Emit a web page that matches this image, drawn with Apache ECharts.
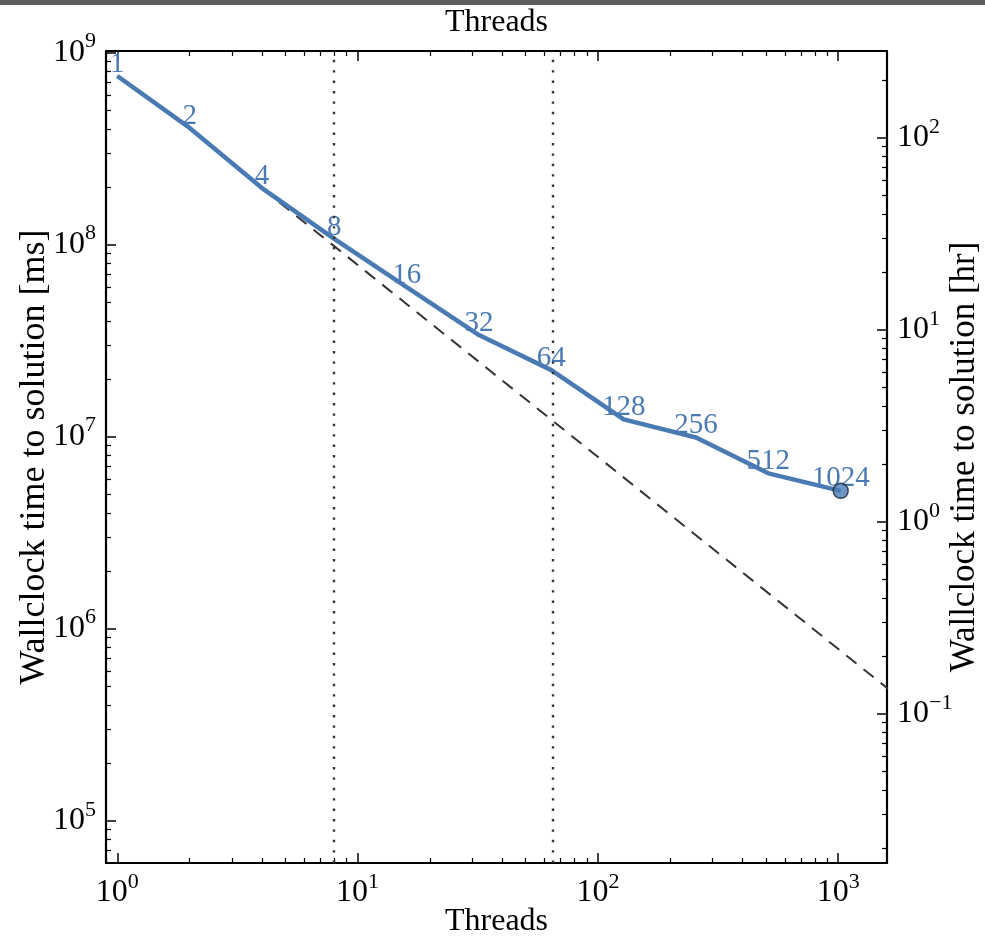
<!DOCTYPE html>
<html>
<head>
<meta charset="utf-8">
<title>Threads scaling</title>
<script src="https://cdn.jsdelivr.net/npm/echarts@6/dist/echarts.min.js"></script>
<style>
  html, body { margin: 0; padding: 0; background: #fff; }
  #chart { width: 985px; height: 937px; }
</style>
</head>
<body>
<div id="chart"></div>
<script>
  "use strict";
  // measured run: threads vs wallclock [ms]
  var threads = [1, 2, 4, 8, 16, 32, 64, 128, 256, 512, 1024];
  var wallclockMs = [7.55e8, 4.05e8, 1.97e8, 1.07e8, 6.0e7, 3.38e7, 2.22e7, 1.23e7, 9.9e6, 6.44e6, 5.22e6];
  // ideal scaling reference (dashed), from 4 threads on
  var idealThreads = [4, 2048];
  var idealMs = [1.96e8, 3.83e5];
  // dotted guides
  var guideThreads = [8, 64];
  // tick exponents
  var xTickExp = [0, 1, 2, 3];
  var msTickExp = [5, 6, 7, 8, 9];
  var hrTickExp = [-1, 0, 1, 2];
  var MS_PER_HR = 3.6e6;

  var X_MIN = -0.047, X_MAX = 3.203;
  var Y_MIN = 4.78, Y_MAX = 9.008;
  var HR_SHIFT = Math.log10(MS_PER_HR);

  var blue = "#4a7ab4";
  var font = "'Liberation Serif', 'DejaVu Serif', serif";

  function minorTicks(min, max) {
    var out = [];
    for (var d = Math.floor(min) - 1; d <= Math.ceil(max); d++) {
      for (var k = 2; k <= 9; k++) {
        var v = d + Math.log10(k);
        if (v > min && v < max) out.push(v);
      }
    }
    return out;
  }

  function powLabel(v) {
    var e = Math.round(v);
    var s = e < 0 ? "\u2212" + (-e) : String(e);
    return "{b|10}{s|" + s + "}";
  }
  var powRich = {
    b: { fontFamily: font, fontSize: 32, lineHeight: 44, color: "#000" },
    s: { fontFamily: font, fontSize: 22, lineHeight: 20, verticalAlign: "top", color: "#000" }
  };

  function baseAxis(min, max, position) {
    return {
      type: "value", min: min, max: max, position: position,
      axisLine: { show: false, onZero: false },
      axisTick: { show: false },
      axisLabel: { show: false },
      splitLine: { show: false }
    };
  }

  function majorAxis(min, max, position, exps, withLabels) {
    var a = baseAxis(min, max, position);
    a.axisLine = { show: true, onZero: false, lineStyle: { color: "#000", width: 2.2 } };
    a.axisTick = { show: true, inside: true, length: 10, customValues: exps,
      lineStyle: { color: "#000", width: 1.5 } };
    if (withLabels) {
      a.axisLabel = { show: true, customValues: exps, formatter: powLabel, rich: powRich, margin: 8 };
    }
    return a;
  }

  function minorAxis(min, max, position) {
    var a = baseAxis(min, max, position);
    a.axisTick = { show: true, inside: true, length: 5, customValues: minorTicks(min, max),
      lineStyle: { color: "#000", width: 1.2 } };
    return a;
  }

  function setName(axis, text, gap, size, rotate) {
    axis.name = text;
    axis.nameLocation = "middle";
    axis.nameGap = gap;
    axis.nameMoveOverlap = false;
    if (rotate != null) axis.nameRotate = rotate;
    axis.nameTextStyle = { fontFamily: font, fontSize: size, color: "#000" };
  }

  var xBottom = majorAxis(X_MIN, X_MAX, "bottom", xTickExp, true);
  setName(xBottom, "Threads", 43, 32);
  var xTop = majorAxis(X_MIN, X_MAX, "top", xTickExp, false);
  setName(xTop, "Threads", 12, 32);

  var yLeft = majorAxis(Y_MIN, Y_MAX, "left", msTickExp, true);
  yLeft.axisLabel.margin = 10;
  setName(yLeft, "Wallclock time to solution [ms]", 53, 36, 90);
  var yRight = majorAxis(Y_MIN - HR_SHIFT, Y_MAX - HR_SHIFT, "right", hrTickExp, true);
  yRight.axisLabel.margin = 10;
  setName(yRight, "Wallclock time to solution [hr]", 60, 35, 90);

  var lineData = threads.map(function (n, i) {
    return [Math.log10(n), Math.log10(wallclockMs[i])];
  });
  var idealData = idealThreads.map(function (n, i) {
    return [Math.log10(n), Math.log10(idealMs[i])];
  });
  var last = lineData.length - 1;

  var chart = echarts.init(document.getElementById("chart"));
  chart.setOption({
    backgroundColor: "#fff",
    animation: false,
    graphic: [{ type: "rect", shape: { x: 0, y: 0, width: 985, height: 5 }, style: { fill: "#5c5c5c" } }],
    grid: { left: 106, right: 98, top: 51, bottom: 74, containLabel: false, outerBoundsMode: "none" },
    xAxis: [xBottom, xTop, minorAxis(X_MIN, X_MAX, "bottom"), minorAxis(X_MIN, X_MAX, "top")],
    yAxis: [yLeft, yRight, minorAxis(Y_MIN, Y_MAX, "left"),
      minorAxis(Y_MIN - HR_SHIFT, Y_MAX - HR_SHIFT, "right")],
    series: [
      {
        name: "ideal",
        type: "line",
        xAxisIndex: 0, yAxisIndex: 0,
        data: idealData,
        symbol: "none",
        silent: true,
        lineStyle: { color: "#333", width: 2, type: [13, 9] },
        markLine: {
          silent: true,
          symbol: "none",
          label: { show: false },
          lineStyle: { color: "#333", width: 2.4, type: [2.4, 8] },
          data: guideThreads.map(function (n) { return { xAxis: Math.log10(n) }; })
        },
        z: 2
      },
      {
        name: "wallclock",
        type: "line",
        xAxisIndex: 0, yAxisIndex: 0,
        data: lineData,
        symbol: "circle",
        symbolSize: 1,
        showSymbol: true,
        itemStyle: { color: blue },
        lineStyle: { color: blue, width: 4.5 },
        label: {
          show: true, position: "top", distance: -3,
          color: blue, fontFamily: font, fontSize: 29,
          formatter: function (p) { return String(threads[p.dataIndex]); }
        },
        z: 3
      },
      {
        name: "end",
        type: "scatter",
        xAxisIndex: 0, yAxisIndex: 0,
        data: [lineData[last]],
        symbol: "circle",
        symbolSize: 15,
        itemStyle: { color: blue, borderColor: "#1b2633", borderWidth: 1.5 },
        z: 4
      }
    ]
  });
</script>
</body>
</html>
